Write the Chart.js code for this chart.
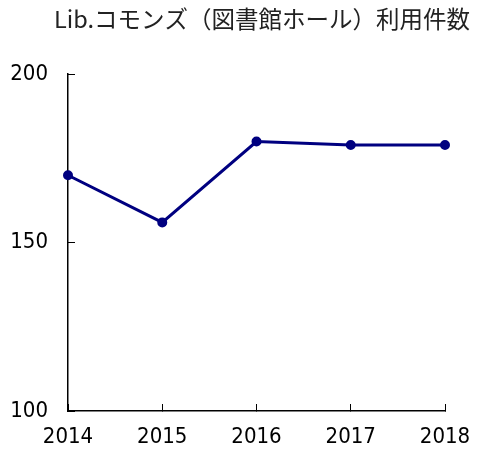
<!DOCTYPE html>
<html>
<head>
<meta charset="utf-8">
<script src="https://cdn.jsdelivr.net/npm/chart.js@4/dist/chart.umd.min.js"></script>
<style>
html,body{margin:0;padding:0;background:#fff;}
#wrap{width:488px;height:452px;}
</style>
</head>
<body>
<div id="wrap"><canvas id="c" width="488" height="452"></canvas></div>
<script>
const titleText = 'Lib.コモンズ（図書館ホール）利用件数';
const years = ['2014', '2015', '2016', '2017', '2018'];
const usageCounts = [170, 156, 180, 179, 179];
const yTicks = [100, 150, 200];

const tickFont = {family: "'DejaVu Sans Condensed', 'Liberation Sans', sans-serif", size: 22};

new Chart(document.getElementById('c'), {
  type: 'line',
  data: {
    labels: years,
    datasets: [{
      label: titleText,
      data: usageCounts,
      borderColor: '#000080',
      backgroundColor: '#000080',
      borderWidth: 3,
      pointRadius: 3.5,
      pointHoverRadius: 3.5,
      pointBackgroundColor: '#000080',
      pointBorderColor: '#000080',
      tension: 0,
      fill: false
    }]
  },
  options: {
    responsive: false,
    animation: false,
    devicePixelRatio: 1,
    layout: {padding: {left: 0, right: 18, top: 0, bottom: 0}},
    plugins: {
      legend: {display: false},
      tooltip: {enabled: false},
      title: {
        display: true,
        text: titleText,
        align: 'end',
        color: '#222',
        font: {family: "'Noto Sans CJK JP', sans-serif", size: 23.5, weight: 'normal'},
        padding: {top: 5, bottom: 41}
      }
    },
    scales: {
      x: {
        type: 'category',
        offset: false,
        grid: {display: true, drawOnChartArea: false, drawTicks: true, tickLength: -7, color: '#000', lineWidth: 1},
        border: {display: true, color: '#000', width: 1.5},
        ticks: {color: '#000', font: tickFont, padding: 20, maxRotation: 0, autoSkip: false},
        afterFit: (s) => { s.paddingRight = 43; s.height = 41; }
      },
      y: {
        min: 100,
        max: 200,
        afterBuildTicks: (s) => { s.ticks = yTicks.map(v => ({value: v})); },
        grid: {display: true, drawOnChartArea: false, drawTicks: true, tickLength: -7, color: '#000', lineWidth: 1},
        border: {display: true, color: '#000', width: 1.5},
        ticks: {color: '#000', font: tickFont, padding: 27},
        afterFit: (s) => { s.width = 68; }
      }
    }
  }
});
</script>
</body>
</html>
